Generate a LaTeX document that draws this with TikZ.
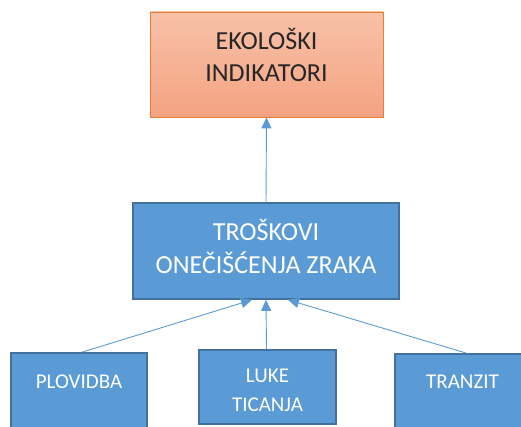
\documentclass[tikz,border=0pt]{standalone}
\usepackage{fontspec}
\setmainfont{Carlito}
\usetikzlibrary{arrows.meta}
\definecolor{boxblue}{HTML}{5B9BD5}
\definecolor{boxedge}{HTML}{41719C}
\definecolor{edgeorange}{HTML}{ED7D31}
\definecolor{salmontop}{HTML}{F8C1A8}
\definecolor{salmonbot}{HTML}{F4A382}
\tikzset{
  bluebox/.style={draw=boxedge, line width=1.6pt, fill=boxblue, text=white,
    align=center, inner sep=0pt},
  uparrow/.style={draw=boxblue, line width=0.9pt, -{Triangle[width=10pt,length=11pt]}}
}
\begin{document}
\begin{tikzpicture}[x=1pt,y=-1pt]
                \clip (0,0) rectangle (521,427);
                % Top box
                \node[draw=edgeorange, line width=0.8pt, top color=salmontop, bottom color=salmonbot,
                  text=black!85, align=center, inner sep=0pt, minimum width=233pt, minimum height=105pt,
                  text height=45pt, text depth=10pt,
                  font=\fontsize{26}{32}\selectfont] (ekoloski) at (266.5,64.5) {EKOLOŠKI\\INDIKATORI};

                % Middle box
                \node[bluebox, minimum width=266pt, minimum height=96pt, text height=50pt, text depth=6pt,
                  font=\fontsize{26}{33}\selectfont] (troskovi) at (266,251) {TROŠKOVI\\ONEČIŠĆENJA ZRAKA};

                % Bottom boxes
                \node[bluebox, minimum width=136pt, minimum height=79pt, text depth=21pt,
                  font=\fontsize{21}{29}\selectfont] (plovidba) at (79,392.5) {PLOVIDBA};
                \node[bluebox, minimum width=137pt, minimum height=74pt, text height=50pt, text depth=2pt,
                  font=\fontsize{21}{29}\selectfont] (luke) at (267.5,387) {LUKE\\TICANJA};
                \node[bluebox, minimum width=135pt, minimum height=78pt, text depth=22pt,
                  font=\fontsize{21}{29}\selectfont] (tranzit) at (462.5,393) {TRANZIT};

                % Arrows up the tree
                \draw[uparrow] (troskovi.north) -- (ekoloski.south);
                \draw[uparrow] ([xshift=3pt]plovidba.north) -- ([xshift=-14pt]troskovi.south);
                \draw[uparrow] ([xshift=-1pt]luke.north) -- ([xshift=0pt]troskovi.south);
                \draw[uparrow] ([xshift=4pt]tranzit.north) -- ([xshift=22pt]troskovi.south);
\end{tikzpicture}
\end{document}
